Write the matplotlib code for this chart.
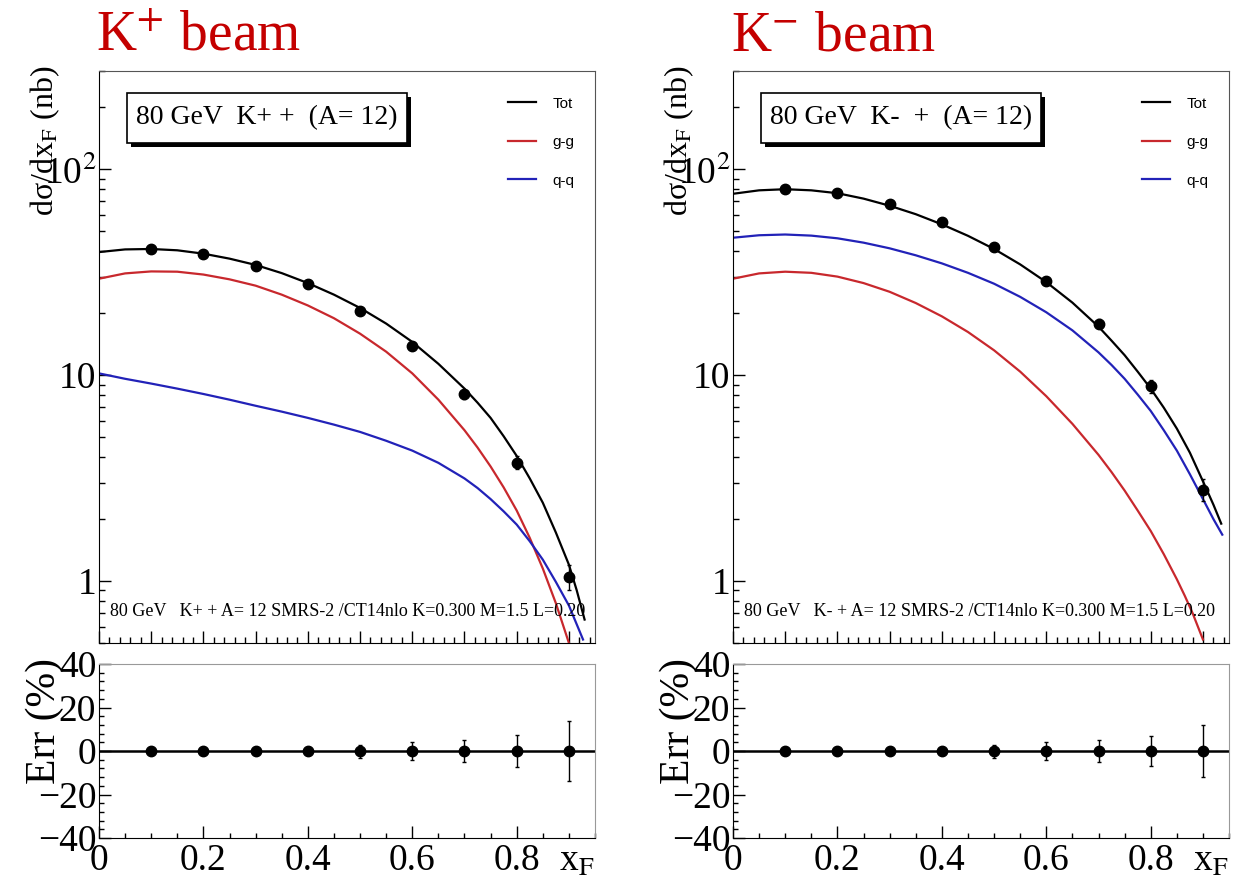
import matplotlib
matplotlib.use("Agg")
import matplotlib.pyplot as plt
import matplotlib.patches as patches
from matplotlib.lines import Line2D
from matplotlib.ticker import FixedLocator, FixedFormatter, LogLocator, NullFormatter, MultipleLocator

plt.rcParams['font.family'] = ['Liberation Serif', 'DejaVu Serif']
plt.rcParams['mathtext.fontset'] = 'stix'

# --- data ---
x_pts = [0.1, 0.2, 0.3, 0.4, 0.5, 0.6, 0.7, 0.8, 0.9]

# K+ beam
kp_data = [41.0, 38.8, 34.0, 27.8, 20.6, 13.8, 8.1, 3.76, 1.05]
kp_err_pct = [0.5, 0.8, 1.5, 2.0, 3.0, 4.0, 5.0, 7.4, 13.6]
kp_tot_x = [0, 0.05, 0.1, 0.15, 0.2, 0.25, 0.3, 0.35, 0.4, 0.45, 0.5, 0.55, 0.6, 0.65,
            0.7, 0.725, 0.75, 0.775, 0.8, 0.825, 0.85, 0.875, 0.9, 0.915, 0.93]
kp_tot = [39.6, 40.8, 41.0, 40.4, 38.9, 36.8, 34.3, 31.3, 28.0, 24.6, 21.2, 17.8, 14.5, 11.35,
          8.6, 7.35, 6.2, 5.05, 4.05, 3.15, 2.4, 1.72, 1.2, 0.9, 0.65]
kp_gg_x = [0, 0.05, 0.1, 0.15, 0.2, 0.25, 0.3, 0.35, 0.4, 0.45, 0.5, 0.55, 0.6, 0.65,
           0.7, 0.725, 0.75, 0.775, 0.8, 0.825, 0.85, 0.875, 0.9]
kp_gg = [29.4, 31.2, 31.9, 31.8, 30.8, 29.2, 27.2, 24.6, 21.8, 18.9, 15.9, 13.0, 10.2, 7.6,
         5.4, 4.45, 3.6, 2.85, 2.2, 1.62, 1.15, 0.78, 0.5]
kp_qq_x = [0, 0.05, 0.1, 0.15, 0.2, 0.25, 0.3, 0.35, 0.4, 0.45, 0.5, 0.55, 0.6, 0.65,
           0.7, 0.725, 0.75, 0.775, 0.8, 0.825, 0.85, 0.875, 0.9, 0.927]
kp_qq = [10.2, 9.6, 9.1, 8.6, 8.1, 7.6, 7.1, 6.65, 6.2, 5.75, 5.3, 4.8, 4.3, 3.75,
         3.15, 2.83, 2.5, 2.18, 1.88, 1.56, 1.27, 0.99, 0.76, 0.52]

# K- beam
km_data = [80.0, 76.6, 67.8, 55.4, 42.0, 28.8, 17.8, 8.85, 2.78]
km_err_pct = [0.5, 0.8, 1.5, 2.0, 3.0, 4.0, 5.0, 7.0, 12.0]
km_tot_x = [0, 0.05, 0.1, 0.15, 0.2, 0.25, 0.3, 0.35, 0.4, 0.45, 0.5, 0.55, 0.6, 0.65,
            0.7, 0.725, 0.75, 0.775, 0.8, 0.825, 0.85, 0.875, 0.9, 0.92, 0.935]
km_tot = [76.0, 79.0, 80.0, 79.0, 76.5, 72.0, 66.5, 60.5, 54.0, 47.5, 41.0, 34.5, 28.3, 22.5,
          17.2, 14.7, 12.5, 10.4, 8.6, 6.95, 5.5, 4.2, 3.05, 2.35, 1.9]
km_gg_x = [0, 0.05, 0.1, 0.15, 0.2, 0.25, 0.3, 0.35, 0.4, 0.45, 0.5, 0.55, 0.6, 0.65,
           0.7, 0.725, 0.75, 0.775, 0.8, 0.825, 0.85, 0.865, 0.88, 0.9]
km_gg = [29.4, 31.2, 31.8, 31.4, 30.1, 28.0, 25.4, 22.4, 19.3, 16.2, 13.2, 10.4, 7.9, 5.8,
         4.1, 3.38, 2.75, 2.2, 1.75, 1.35, 1.02, 0.85, 0.7, 0.52]
km_qq_x = [0, 0.05, 0.1, 0.15, 0.2, 0.25, 0.3, 0.35, 0.4, 0.45, 0.5, 0.55, 0.6, 0.65,
           0.7, 0.725, 0.75, 0.775, 0.8, 0.825, 0.85, 0.875, 0.9, 0.92, 0.937]
km_qq = [46.5, 47.8, 48.2, 47.6, 46.2, 44.0, 41.3, 38.2, 34.9, 31.4, 27.8, 24.0, 20.2, 16.5,
         12.9, 11.2, 9.6, 8.05, 6.7, 5.4, 4.3, 3.3, 2.5, 2.0, 1.68]

legend_labels = ['Tot', 'g-g', 'q-q']
RED = '#c8282d'
BLUE = '#2222b8'
TITLE_RED = '#c40000'

fig = plt.figure(figsize=(12.34, 8.8), dpi=100)


def style_ticks(ax, major_len=8.5, minor_len=4.3):
    ax.tick_params(which='both', direction='in', top=False, right=False, width=1.0)
    ax.tick_params(which='major', length=major_len, labelsize=27, pad=2)
    ax.tick_params(which='minor', length=minor_len)


def draw_panel(left, title, box_text, note_text, data, err_pct, curves):
    width = 0.402
    ax = fig.add_axes([left, 0.2693, width, 0.65])
    axr = fig.add_axes([left, 0.0477, width, 0.1977])

    # upper: cross sections
    ax.set_yscale('log')
    ax.set_xlim(0, 0.95)
    ax.set_ylim(0.5, 300)
    for (cx, cy), col in zip(curves, ['black', RED, BLUE]):
        ax.plot(cx, cy, color=col, lw=1.6, zorder=2)
    yerr = [v * e / 100 for v, e in zip(data, err_pct)]
    ax.errorbar(x_pts, data, yerr=yerr, fmt='o', color='black', ms=7.5,
                capsize=1.5, elinewidth=1, zorder=3)

    ax.yaxis.set_major_locator(FixedLocator([1, 10, 100]))
    ax.yaxis.set_major_formatter(FixedFormatter(['1', '10', '10$^{2}$']))
    ax.yaxis.set_minor_locator(LogLocator(base=10, subs=range(2, 10)))
    ax.yaxis.set_minor_formatter(NullFormatter())
    ax.xaxis.set_major_locator(MultipleLocator(0.1))
    ax.xaxis.set_minor_locator(MultipleLocator(0.02))
    style_ticks(ax)
    ax.tick_params(axis='x', labelbottom=False)
    for s in ['top', 'right']:
        ax.spines[s].set_color('#555555')

    # label box with shadow
    bx, by, bw, bh = 0.056, 0.874, 0.565, 0.0874
    ax.add_patch(patches.Rectangle((bx + 0.008, by - 0.007), bw, bh, transform=ax.transAxes,
                                   facecolor='black', edgecolor='none', zorder=4))
    ax.add_patch(patches.Rectangle((bx, by), bw, bh, transform=ax.transAxes,
                                   facecolor='white', edgecolor='black', lw=1.2, zorder=5))
    ax.text(bx + bw / 2, by + bh / 2, box_text, transform=ax.transAxes,
            ha='center', va='center', fontsize=20, zorder=6)

    ax.text(0.022, 0.055, note_text, transform=ax.transAxes, ha='left', va='center',
            fontsize=13, zorder=6)

    handles = [Line2D([], [], color=c, lw=1.6) for c in ['black', RED, BLUE]]
    ax.legend(handles, legend_labels, loc='upper left', bbox_to_anchor=(0.825, 0.955),
              frameon=False, prop={'family': 'Liberation Sans', 'size': 11},
              handlelength=1.8, handletextpad=1.1, labelspacing=1.6,
              borderpad=0, borderaxespad=0)

    fig.text(left - 54 / 1234, 0.925, 'dσ/dx$_{\\mathrm{F}}$ (nb)', rotation=90,
             ha='center', va='top', fontsize=23)

    # lower: relative errors
    axr.set_xlim(0, 0.95)
    axr.set_ylim(-40, 40)
    axr.axhline(0, color='black', lw=1.8, zorder=1)
    axr.errorbar(x_pts, [0] * len(x_pts), yerr=err_pct, fmt='o', color='black',
                 ms=7.5, capsize=1.5, elinewidth=1, zorder=3)
    axr.set_xticks([0, 0.2, 0.4, 0.6, 0.8])
    axr.set_xticklabels(['0', '0.2', '0.4', '0.6', '0.8'])
    axr.xaxis.set_minor_locator(MultipleLocator(0.05))
    axr.yaxis.set_major_locator(MultipleLocator(20))
    axr.yaxis.set_minor_locator(MultipleLocator(4))
    style_ticks(axr, major_len=8.5, minor_len=3.5)
    axr.tick_params(axis='x', pad=4)
    for s in ['top', 'right']:
        axr.spines[s].set_color('#999999')
    axr.text(1.0, -0.035, 'x$_{\\mathrm{F}}$', transform=axr.transAxes, ha='right',
             va='top', fontsize=27)
    fig.text(left - 54 / 1234, 0.252, 'Err (%)', rotation=90, ha='center', va='top',
             fontsize=30)

    fig.text(left - 0.002, 0.943, title, color=TITLE_RED, fontsize=40, ha='left',
             va='baseline')


draw_panel(0.0802, 'K$^{+}$ beam', '80 GeV  K+ +  (A= 12)',
           '80 GeV   K+ + A= 12 SMRS-2 /CT14nlo K=0.300 M=1.5 L=0.20',
           kp_data, kp_err_pct,
           [(kp_tot_x, kp_tot), (kp_gg_x, kp_gg), (kp_qq_x, kp_qq)])
draw_panel(0.594, 'K$^{-}$ beam', '80 GeV  K-  +  (A= 12)',
           '80 GeV   K- + A= 12 SMRS-2 /CT14nlo K=0.300 M=1.5 L=0.20',
           km_data, km_err_pct,
           [(km_tot_x, km_tot), (km_gg_x, km_gg), (km_qq_x, km_qq)])

fig.savefig('out.png', dpi=100)
